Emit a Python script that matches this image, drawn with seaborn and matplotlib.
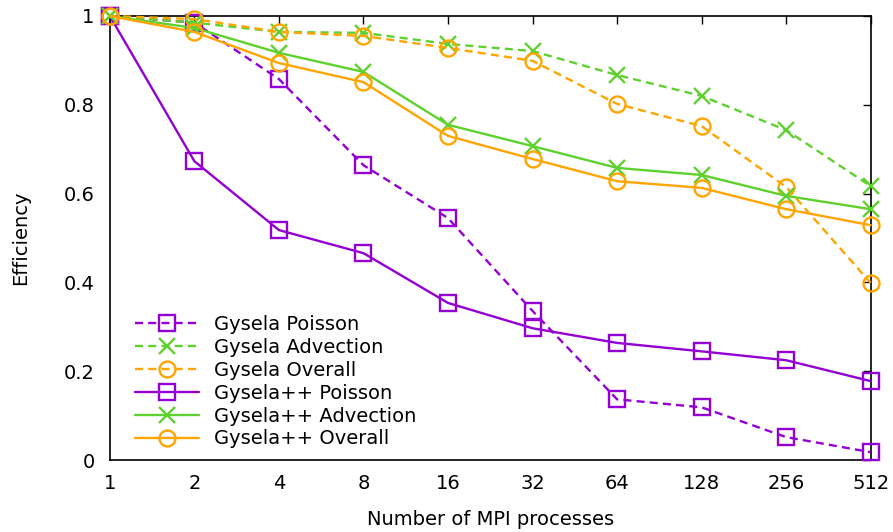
import matplotlib
matplotlib.use('Agg')
import matplotlib.pyplot as plt
import seaborn as sns
import pandas as pd

# MPI process counts
procs = [1, 2, 4, 8, 16, 32, 64, 128, 256, 512]

# Efficiency values
gysela_poisson = [1.0, 0.985, 0.858, 0.664, 0.545, 0.336, 0.137, 0.119, 0.052, 0.018]
gysela_advection = [1.0, 0.985, 0.964, 0.962, 0.937, 0.921, 0.867, 0.820, 0.743, 0.617]
gysela_overall = [1.0, 0.993, 0.964, 0.955, 0.928, 0.899, 0.802, 0.752, 0.615, 0.399]
gyselapp_poisson = [1.0, 0.673, 0.518, 0.466, 0.354, 0.297, 0.264, 0.245, 0.225, 0.178]
gyselapp_advection = [1.0, 0.973, 0.917, 0.874, 0.755, 0.707, 0.658, 0.642, 0.595, 0.565]
gyselapp_overall = [1.0, 0.964, 0.894, 0.851, 0.730, 0.678, 0.628, 0.613, 0.565, 0.529]

series_names = ['Gysela Poisson', 'Gysela Advection', 'Gysela Overall',
                'Gysela++ Poisson', 'Gysela++ Advection', 'Gysela++ Overall']
series_values = [gysela_poisson, gysela_advection, gysela_overall,
                 gyselapp_poisson, gyselapp_advection, gyselapp_overall]

sns.set_theme(style='white')
plt.rcParams['font.family'] = ['DejaVu Sans']
plt.rcParams['text.color'] = 'black'
plt.rcParams['axes.labelcolor'] = 'black'

purple = '#9400d3'
green = '#5fd12e'
orange = '#ffa500'
dash = (0, (3.4, 2.2))
styles = {
    'Gysela Poisson': (purple, dash, 's'),
    'Gysela Advection': (green, dash, 'x'),
    'Gysela Overall': (orange, dash, 'o'),
    'Gysela++ Poisson': (purple, '-', 's'),
    'Gysela++ Advection': (green, '-', 'x'),
    'Gysela++ Overall': (orange, '-', 'o'),
}

rows = []
for name, vals in zip(series_names, series_values):
    for p, v in zip(procs, vals):
        rows.append({'procs': p, 'eff': v, 'series': name})
df = pd.DataFrame(rows)

fig = plt.figure(figsize=(8.93, 5.32), dpi=100)
ax = fig.add_axes([0.123, 0.135, 0.852, 0.835])

for name in series_names:
    color, ls, marker = styles[name]
    sub = df[df['series'] == name]
    sns.lineplot(data=sub, x='procs', y='eff', ax=ax, color=color,
                 linestyle=ls, marker=marker, markersize=11.5,
                 markerfacecolor='none', markeredgecolor=color,
                 markeredgewidth=1.7, linewidth=1.7, label=name,
                 clip_on=False, zorder=3)

ax.set_xscale('log', base=2)
ax.set_xlim(1, 512)
ax.set_ylim(0, 1)
ax.set_xticks(procs)
ax.set_xticklabels([str(p) for p in procs])
ax.set_yticks([0, 0.2, 0.4, 0.6, 0.8, 1.0])
ax.set_yticklabels(['0', '0.2', '0.4', '0.6', '0.8', '1'])
ax.minorticks_off()
ax.tick_params(axis='both', direction='in', length=6, width=1, color='black',
               labelsize=14, top=True, right=True, labelcolor='black')
ax.tick_params(axis='y', pad=11)
ax.tick_params(axis='x', pad=10)
for s in ax.spines.values():
    s.set_color('black')
    s.set_linewidth(1.2)

ax.set_xlabel('Number of MPI processes', fontsize=14, labelpad=12)
ax.set_ylabel('Efficiency', fontsize=14, labelpad=24)

ax.legend(loc='lower left', bbox_to_anchor=(0.023, 0.009), frameon=False,
          fontsize=14, handlelength=3.3, handletextpad=0.75,
          labelspacing=0.2, numpoints=1, borderaxespad=0, borderpad=0.4)

fig.savefig('out.png', dpi=100)
